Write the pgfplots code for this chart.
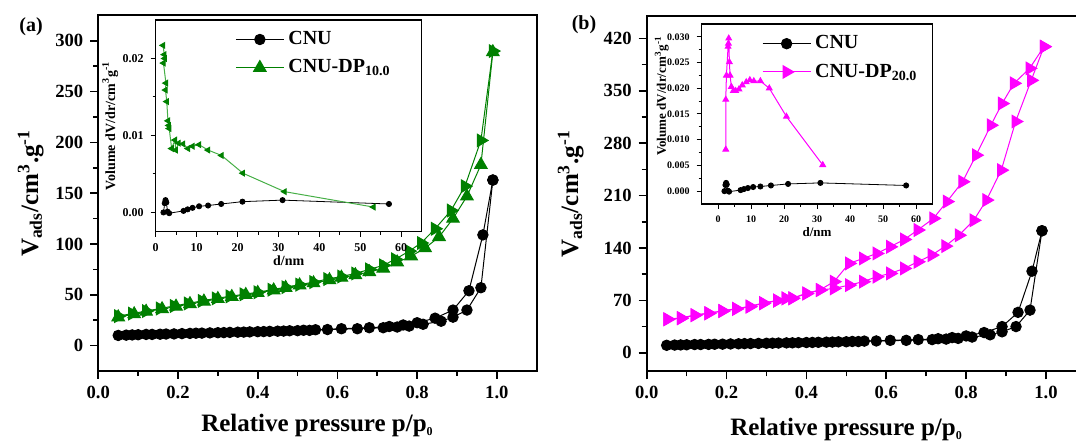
\documentclass[border=0pt]{standalone}
\usepackage{pgfplots}
\usepackage{pgfplotstable}
\pgfplotsset{compat=1.18}
\usepackage{fontspec}
\setmainfont{Liberation Serif}
\definecolor{dpgreen}{RGB}{0,128,0}
\definecolor{dplgreen}{RGB}{70,175,70}
\definecolor{dpmag}{RGB}{255,0,255}

% CNU isotherm (adsorption / desorption)
\pgfplotstableread{
p v
0.050 10.0
0.085 10.5
0.120 11.0
0.155 11.2
0.190 11.5
0.230 12.0
0.260 12.3
0.300 12.7
0.330 13.0
0.365 13.3
0.400 13.7
0.430 14.0
0.465 14.3
0.500 14.7
0.530 15.0
0.575 15.8
0.650 16.6
0.715 17.6
0.750 18.3
0.780 19.2
0.815 21.0
0.860 24.0
0.890 28.0
0.925 35.0
0.960 57.0
0.990 163.0
}\cnuads
\pgfplotstableread{
p v
0.990 163
0.965 109
0.930 54
0.890 35
0.845 27
0.800 22.5
0.765 20.3
0.730 18.8
0.680 17.6
0.610 16.6
0.545 15.6
0.515 15.1
0.480 14.6
0.450 14.2
0.415 13.8
0.380 13.5
0.350 13.2
0.315 12.8
0.280 12.5
0.245 12.2
0.210 11.8
0.170 11.4
0.135 11.0
0.100 10.7
0.070 10.3
}\cnudes
% CNU-DP10.0
\pgfplotstableread{
p v
0.050 28
0.090 31
0.120 33.5
0.160 36
0.195 38.5
0.230 41
0.265 43.5
0.300 46
0.335 48
0.370 50
0.400 52
0.440 54.5
0.470 57
0.505 59.5
0.540 61.5
0.580 64.5
0.610 67
0.645 69.5
0.680 72.5
0.715 76
0.750 82
0.785 88
0.820 96
0.855 107
0.890 125
0.925 147
0.960 178
0.990 289
}\dpaads
\pgfplotstableread{
p v
0.990 290
0.960 202
0.920 157
0.885 133
0.845 115
0.810 101
0.780 93
0.745 85
0.715 79
0.680 75
0.645 71
0.610 68
0.575 65.5
0.540 62.5
0.505 60
0.470 57.5
0.435 55
0.400 52.5
0.365 50.5
0.330 48.5
0.295 46.5
0.260 44
0.225 41.5
0.190 39
0.155 36.5
0.120 34
0.085 31.5
0.050 29
}\dpades
% CNU-DP20.0
\pgfplotstableread{
p v
0.052 44.5
0.086 46
0.120 50
0.155 52.6
0.190 55.7
0.224 58.4
0.258 61.5
0.292 66
0.327 69.5
0.348 72.6
0.365 72.6
0.400 79
0.434 83.7
0.469 86
0.507 90.4
0.542 95
0.576 101.6
0.610 106
0.645 112.7
0.679 121.6
0.714 130.5
0.748 142.5
0.782 157
0.819 177
0.851 204
0.888 244
0.924 309
0.963 364
0.995 409
}\dpbads
\pgfplotstableread{
p v
0.995 409
0.959 380
0.920 360
0.890 333
0.862 304
0.825 264
0.791 228.5
0.752 202
0.718 179.5
0.679 164
0.645 151.4
0.610 141.6
0.576 132.7
0.542 126
0.507 119.4
0.469 95
0.434 84
0.400 79.5
0.365 73
0.348 72.8
0.327 70
0.292 66.5
0.258 62
0.224 59
0.190 56
0.155 53
0.120 50.5
0.086 46.5
0.052 45
}\dpbdes
% pore size distributions
\pgfplotstableread{
d v
1.9 0.0000
2.2 0.0012
2.4 0.0016
2.6 0.0013
2.9 0.0001
3.3 -0.0001
6.8 0.0002
7.8 0.0004
9.0 0.0006
10.6 0.0008
12.8 0.0009
16.0 0.0011
21.2 0.0014
31.0 0.0016
57.0 0.0011
}\psdcnu
\pgfplotstableread{
d v
1.8 0.0217
2.1 0.0205
2.2 0.0200
1.9 0.0194
2.5 0.0168
2.4 0.0159
2.7 0.0144
3.0 0.0119
3.2 0.0113
3.3 0.0109
3.9 0.0083
4.7 0.0094
4.9 0.0081
5.6 0.0090
6.7 0.0089
7.9 0.0083
9.0 0.0086
10.6 0.0088
12.8 0.0081
16.1 0.0074
21.3 0.0051
31.5 0.0027
53.2 0.0007
}\psdta
\pgfplotstableread{
d v
2.3 0.0081
2.3 0.0178
2.5 0.0225
3.0 0.0281
3.1 0.0287
3.2 0.0297
3.4 0.0251
3.6 0.0225
4.0 0.0203
4.6 0.0195
5.3 0.0195
6.3 0.0198
7.3 0.0206
8.5 0.0212
9.6 0.0216
10.8 0.0214
12.8 0.0214
15.5 0.0200
20.7 0.0145
31.7 0.0051
}\psdtb

\pgfplotsset{
  mainax/.style={
    scale only axis, anchor=south west,
    axis line style={line width=1pt},
    tick align=outside, xtick pos=bottom, ytick pos=left,
    major tick length=4pt, minor tick length=2.5pt,
    every tick/.append style={line width=0.8pt, black},
    /pgf/number format/assume math mode=true,
    tick label style={font=\fontsize{9.3}{11}\selectfont\bfseries},
    label style={font=\fontsize{12.5}{15}\selectfont\bfseries},
    xmin=0, xmax=1.1, xtick={0,0.2,0.4,0.6,0.8,1.0}, minor x tick num=1,
    xticklabel style={/pgf/number format/.cd, fixed, fixed zerofill, precision=1},
    xlabel={Relative pressure p/p\textsubscript{\fontsize{6}{7}\selectfont 0}},
    ylabel={V\textsubscript{ads}/cm\textsuperscript{3}.g\textsuperscript{-1}},
  },
  inax/.style={
    scale only axis, anchor=south west,
    axis line style={line width=0.7pt},
    tick align=outside, xtick pos=bottom, ytick pos=left,
    major tick length=2.5pt, minor tick length=1.5pt,
    every tick/.append style={line width=0.5pt, black},
    /pgf/number format/assume math mode=true,
    scaled y ticks=false,
    xmax=65, xtick={0,10,20,30,40,50,60}, minor x tick num=1, minor y tick num=1,
    xlabel={d/nm},
    ylabel={Volume dV/dr/cm\textsuperscript{3}g\textsuperscript{-1}},
    label style={font=\fontsize{7}{8}\selectfont\bfseries},
    legend cell align=left,
    legend style={draw=none, fill=none, inner sep=0pt, font=\fontsize{10}{12}\selectfont\bfseries, row sep=2pt},
    legend image code/.code={\draw[mark repeat=2,mark phase=2,##1] plot coordinates {(0pt,0pt) (12pt,0pt) (24pt,0pt)};},
  },
  cnumain/.style={black, line width=0.5pt, mark=*, mark size=2.6pt},
  cnuin/.style={black, line width=0.4pt, mark=*, mark size=1.3pt},
}

\begin{document}
\begin{tikzpicture}[x=1pt,y=1pt]
\path[use as bounding box] (0,0) rectangle (538,221);
\clip (0,0) rectangle (538,221);

% ---------------- panel (a) main
\begin{axis}[mainax, at={(49.15pt,35.5pt)}, width=219.2pt, height=177.75pt,
  ymin=-25, ymax=325, ytick={0,50,100,150,200,250,300}, minor y tick num=1,
  xlabel style={at={(axis description cs:0.5,0)}, anchor=base, yshift=-30.5pt},
  ylabel style={at={(axis description cs:-0.1375,0.5)}, anchor=base}]
\addplot[cnumain] table[x=p,y=v] {\cnuads};
\addplot[cnumain] table[x=p,y=v] {\cnudes};
\addplot[dpgreen, line width=0.5pt, mark=triangle*, mark size=3.6pt] table[x=p,y=v] {\dpaads};
\addplot[dpgreen, line width=0.5pt, mark=triangle*, mark size=3.6pt, mark options={rotate=-90}] table[x=p,y=v] {\dpades};
\end{axis}

% ---------------- panel (a) inset
\begin{axis}[inax, at={(77.85pt,105.15pt)}, width=133pt, height=105.85pt,
  xmin=0, ymin=-0.0025, ymax=0.025, ytick={0,0.01,0.02},
  tick label style={font=\fontsize{6}{7}\selectfont\bfseries},
  yticklabel style={/pgf/number format/.cd, fixed, fixed zerofill, precision=2},
  xlabel style={at={(axis description cs:0.5,0)}, anchor=base, yshift=-16.9pt},
  ylabel style={at={(axis description cs:-0.153,0.5)}, anchor=base},
  legend style={at={(axis description cs:0.298,0.967)}, anchor=north west}]
\addlegendimage{black, line width=0.5pt, mark=*, mark size=2.6pt}
\addlegendentry{CNU}
\addlegendimage{dpgreen, line width=0.5pt, mark=triangle*, mark size=3.6pt}
\addlegendentry{CNU-DP\textsubscript{10.0}}
\addplot[cnuin, forget plot] table[x=d,y=v] {\psdcnu};
\addplot[dplgreen, line width=0.5pt, mark=triangle*, mark size=1.6pt, mark options={rotate=90, draw=dpgreen, fill=dpgreen}, forget plot] table[x=d,y=v] {\psdta};
\end{axis}

% ---------------- panel (b) main
\begin{axis}[mainax, at={(323.35pt,35.25pt)}, width=219.6pt, height=177.75pt,
  ymin=-25, ymax=450, ytick={0,70,140,210,280,350,420}, minor y tick num=1,
  xlabel style={at={(axis description cs:0.455,0)}, anchor=base, yshift=-32pt},
  ylabel style={at={(axis description cs:-0.156,0.5)}, anchor=base}]
\addplot[cnumain] table[x=p,y=v] {\cnuads};
\addplot[cnumain] table[x=p,y=v] {\cnudes};
\addplot[dpmag, line width=0.5pt, mark=triangle*, mark size=3.6pt, mark options={rotate=-90}] table[x=p,y=v] {\dpbads};
\addplot[dpmag, line width=0.5pt, mark=triangle*, mark size=3.6pt, mark options={rotate=-90}] table[x=p,y=v] {\dpbdes};
\end{axis}

% ---------------- panel (b) inset
\begin{axis}[inax, at={(350.85pt,119pt)}, width=115.4pt, height=90pt,
  xmin=-5, ymin=-0.0025, ymax=0.0325, ytick={0,0.005,0.01,0.015,0.02,0.025,0.03},
  tick label style={font=\fontsize{5}{6}\selectfont\bfseries},
  yticklabel style={/pgf/number format/.cd, fixed, fixed zerofill, precision=3},
  label style={font=\fontsize{6.5}{7.5}\selectfont\bfseries},
  xlabel style={at={(axis description cs:0.5,0)}, anchor=base, yshift=-16.25pt},
  ylabel style={at={(axis description cs:-0.155,0.6)}, anchor=base},
  legend style={at={(axis description cs:0.26,0.96)}, anchor=north west}]
\addlegendimage{black, line width=0.5pt, mark=*, mark size=2.6pt}
\addlegendentry{CNU}
\addlegendimage{dpmag, line width=0.5pt, mark=triangle*, mark size=3.6pt, mark options={rotate=-90}}
\addlegendentry{CNU-DP\textsubscript{20.0}}
\addplot[cnuin, forget plot] table[x=d,y=v] {\psdcnu};
\addplot[dpmag, line width=0.5pt, mark=triangle*, mark size=1.6pt, forget plot] table[x=d,y=v] {\psdtb};
\end{axis}

\node[font=\fontsize{10}{12}\selectfont\bfseries] at (15.5,207.5) {(a)};
\node[font=\fontsize{10}{12}\selectfont\bfseries] at (292,208.5) {(b)};
\end{tikzpicture}
\end{document}
